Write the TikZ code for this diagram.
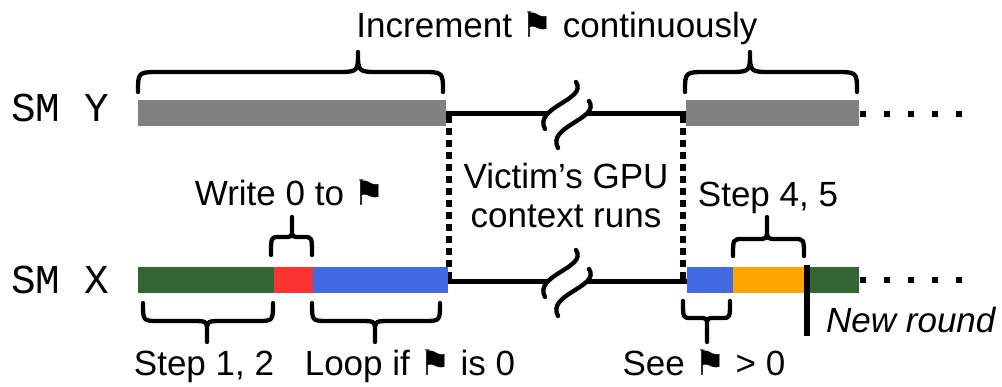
\documentclass[tikz,border=0pt]{standalone}
\usepackage{fontspec}
\setmainfont{Liberation Sans}
\newfontfamily\monofont{Liberation Mono}
\newfontfamily\symfont{DejaVu Sans}
\newcommand\flg{{\symfont ⚑}}
\definecolor{gbar}{RGB}{128,128,128}
\definecolor{gnbar}{RGB}{52,100,52}
\definecolor{rdbar}{RGB}{250,50,50}
\definecolor{blbar}{RGB}{65,105,225}
\definecolor{orbar}{RGB}{255,165,0}
\tikzset{
  brc/.style={line width=4.3pt, line join=round, line cap=round},
  brkline/.style={line width=4.3pt, line cap=round},
  tline/.style={line width=5pt},
  vdash/.style={line width=6pt, dash pattern=on 7pt off 5pt},
  dots/.style={line width=6pt, dash pattern=on 6pt off 18pt},
  lbl/.style={inner sep=0pt, anchor=base, font=\fontsize{35}{39}\selectfont},
  sm/.style={inner sep=0pt, anchor=base west, font=\monofont\fontsize{41}{45}\selectfont},
}
% x1 x2 xt yend ymid ytip r s
\newcommand\mybrace[8]{\draw[brc] (#1,#4) .. controls (#1,#5) .. ({#1+#7},#5) -- ({#3-#7},#5) .. controls (#3,#5) .. (#3,{#5+#8}) -- (#3,#6) -- (#3,{#5+#8}) .. controls (#3,#5) .. ({#3+#7},#5) -- ({#2-#7},#5) .. controls (#2,#5) .. (#2,#4);}
\newcommand\breaksym[2]{%
  \draw[brkline] (#1,#2) .. controls ({#1+12},{#2+18}) and ({#1-43},{#2+25}) .. ({#1-31},{#2+47});
  \draw[brkline] ({#1+13},{#2+19}) .. controls ({#1+25},{#2+37}) and ({#1-30},{#2+44}) .. ({#1-18},{#2+66});
}
\begin{document}
\begin{tikzpicture}[x=1pt,y=-1pt]
\useasboundingbox (0,0) rectangle (1002,386);
% labels
\node[sm] (smy) at (11,121) {SM Y};
\node[sm] (smx) at (11,293) {SM X};
% vertical dotted
\draw[vdash] (449,116) -- (449,279);
\draw[vdash] (683,116) -- (683,279);
% SM Y row
\fill[gbar] (138,100) rectangle (446,126);
\fill[gbar] (686,100) rectangle (859,126);
\draw[tline] (446,113) -- (549,113);
\draw[tline] (587,113) -- (686,113);
\breaksym{576}{82}
\draw[dots] (860,114) -- (966,114);
% SM X row
\fill[gnbar] (138,267) rectangle (274,293);
\fill[rdbar] (274,267) rectangle (313,293);
\fill[blbar] (313,267) rectangle (448,293);
\fill[blbar] (687,267) rectangle (733,293);
\fill[orbar] (733,267) rectangle (807,293);
\fill[gnbar] (807,267) rectangle (859,293);
\draw[tline] (448,281) -- (549,281);
\draw[tline] (587,281) -- (687,281);
\breaksym{576}{250}
\draw[dots] (860,280) -- (966,280);
\draw[line width=5.5pt] (807,265) -- (807,336);
% braces
\mybrace{138}{443}{358}{92}{72}{52}{22}{-20}
\mybrace{685}{857}{750}{92}{72}{52}{22}{-20}
\mybrace{271}{312}{292}{255}{237}{217}{8}{-8}
\mybrace{733}{804}{767}{256}{239}{217}{10}{-10}
\mybrace{143}{273}{207}{303}{321}{342}{16}{10}
\mybrace{312}{440}{375}{303}{321}{342}{16}{10}
\mybrace{683}{730}{707}{301}{318}{342}{8}{8}
% texts
\node[lbl] (inc) at (557,37) {Increment \flg{} continuously};
\node[lbl] (vic1) at (566,188) {Victim’s GPU};
\node[lbl] (vic2) at (566,227) {context runs};
\node[lbl] (wr) at (290,205) {Write 0 to \flg};
\node[lbl] (s45) at (768,206) {Step 4, 5};
\node[lbl] (s12) at (204,375) {Step 1, 2};
\node[lbl] (loop) at (410,375) {Loop if \flg{} is 0};
\node[lbl] (see) at (704,375) {See \flg{} > 0};
\node[lbl, anchor=base west] (nr) at (826,332) {\itshape New round};
\end{tikzpicture}
\end{document}
